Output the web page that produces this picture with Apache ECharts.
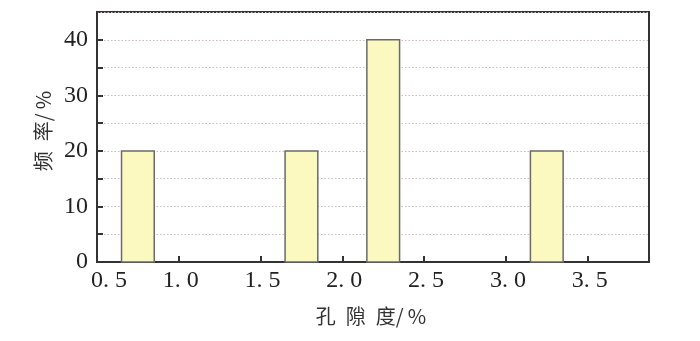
<!DOCTYPE html>
<html>
<head>
<meta charset="utf-8">
<script src="https://cdn.jsdelivr.net/npm/echarts@6/dist/echarts.min.js"></script>
<style>
html,body{margin:0;padding:0;background:#fff;}
#chart{width:700px;height:341px;}
</style>
</head>
<body>
<div id="chart"></div>
<script>
// Bin edges (porosity %) and frequency (%)
var binStart = [0.65, 1.65, 2.15, 3.15];
var binEnd   = [0.85, 1.85, 2.35, 3.35];
var frequency = [20, 20, 40, 20];
var xTickLabels = ['0. 5', '1. 0', '1. 5', '2. 0', '2. 5', '3. 0', '3. 5'];
var xName = '孔\u2002隙\u2002度/\u2009%';
var yName = '频\u2002率/\u2009%';

var data = binStart.map(function (s, i) { return [s, binEnd[i], frequency[i]]; });

var chart = echarts.init(document.getElementById('chart'), null, {renderer: 'canvas'});
var serif = '"Liberation Serif","Times New Roman",serif';
var cjk = '"Noto Sans CJK SC","Liberation Serif",serif';

chart.setOption({
  animation: false,
  grid: {
    left: 97, right: 51, top: 12, bottom: 79,
    show: true, borderColor: '#333', borderWidth: 2, backgroundColor: 'transparent'
  },
  xAxis: {
    type: 'value', min: 0.5, max: 3.875, interval: 0.5,
    axisLine: {show: true, lineStyle: {color: '#333', width: 2}},
    axisTick: {show: true, inside: true, length: 6, lineStyle: {color: '#333', width: 2}},
    splitLine: {show: false},
    axisLabel: {
      color: '#222', fontFamily: serif, fontSize: 24, margin: 7, showMaxLabel: false,
      formatter: function (v) {
        var idx = Math.round((v - 0.5) / 0.5);
        var s = xTickLabels[idx] !== undefined ? xTickLabels[idx] : '';
        return idx === 0 ? '{first|' + s + '}' : '{n|' + s + '}';
      },
      rich: {
        first: {fontFamily: serif, fontSize: 24, color: '#222', padding: [0, 0, 0, 24]},
        n: {fontFamily: serif, fontSize: 24, color: '#222', padding: [0, 0, 0, 4]}
      }
    },
    name: xName, nameLocation: 'middle', nameGap: 44,
    nameTextStyle: {fontFamily: cjk, fontSize: 20, color: '#333', padding: [0, 4, 0, 0]}
  },
  yAxis: {
    type: 'value', min: 0, max: 45, interval: 5,
    axisLine: {show: true, lineStyle: {color: '#333', width: 2}},
    axisTick: {show: true, inside: true, length: 6, lineStyle: {color: '#333', width: 2}},
    splitLine: {show: true, lineStyle: {color: '#cbbcbc', type: [1.5, 2], width: 1}},
    axisLabel: {
      color: '#222', fontFamily: serif, fontSize: 24, margin: 9, showMaxLabel: false,
      formatter: function (v) { return v % 10 === 0 ? String(v) : ''; }
    },
    name: yName, nameLocation: 'middle', nameGap: 44, nameRotate: 90,
    nameTextStyle: {fontFamily: cjk, fontSize: 20, color: '#333', padding: [0, 0, 0, 12]}
  },
  series: [{
    type: 'custom',
    data: data,
    encode: {x: [0, 1], y: 2},
    renderItem: function (params, api) {
      var p0 = api.coord([api.value(0), api.value(2)]);
      var p1 = api.coord([api.value(1), 0]);
      return {
        type: 'rect',
        shape: {x: p0[0], y: p0[1], width: p1[0] - p0[0], height: p1[1] - p0[1]},
        style: {fill: '#fcf9c0', stroke: '#6a6a6a', lineWidth: 1.5}
      };
    }
  }]
});
</script>
</body>
</html>
